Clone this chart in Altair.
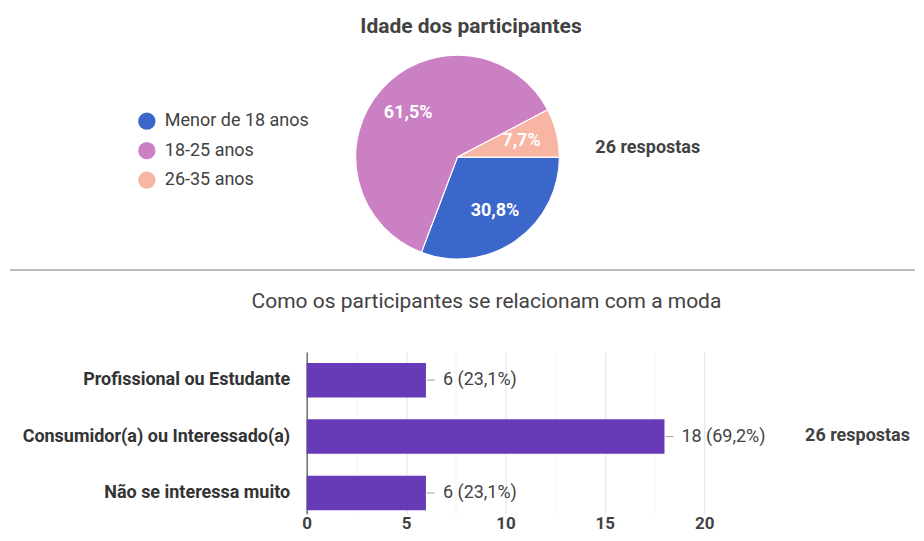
import math
import altair as alt
import pandas as pd

# ---------------- data ----------------
age_groups = ["Menor de 18 anos", "18-25 anos", "26-35 anos"]
age_counts = [8, 16, 2]
age_colors = ["#3B67CB", "#CB80C3", "#F8B5A4"]

rel_categories = ["Profissional ou Estudante", "Consumidor(a) ou Interessado(a)", "Não se interessa muito"]
rel_counts = [6, 18, 6]

total_respostas = 26
x_ticks = [0, 2.5, 5, 7.5, 10, 12.5, 15, 17.5, 20]

title_top = "Idade dos participantes"
title_bottom = "Como os participantes se relacionam com a moda"

TXT = "#424242"
FONT = "Roboto"


def pct(v):
    return f"{v / total_respostas * 100:.1f}%".replace(".", ",")


pie_df = pd.DataFrame({
    "grupo": age_groups,
    "n": age_counts,
    "ordem": list(range(len(age_groups))),
    "pct": [pct(v) for v in age_counts],
})
bar_df = pd.DataFrame({
    "cat": rel_categories,
    "n": rel_counts,
    "rotulo": [f"{v} ({pct(v)})" for v in rel_counts],
})
note_df = pd.DataFrame({"txt": [f"{total_respostas} respostas"]})

# ---------------- top: pie ----------------
# both panels share the plot origin (x = 299 px into the canvas)
theta_scale = alt.Scale(range=[math.pi / 2, math.pi / 2 + 2 * math.pi])
cx, cy = 151, 114

base = alt.Chart(pie_df).encode(
    theta=alt.Theta("n:Q", stack=True, scale=theta_scale),
    order=alt.Order("ordem:Q"),
)
arcs = base.mark_arc(outerRadius=102, stroke="white", strokeWidth=1.2).encode(
    color=alt.Color(
        "grupo:N",
        sort=age_groups,
        scale=alt.Scale(domain=age_groups, range=age_colors),
        legend=alt.Legend(
            title=None, orient="none", legendX=-169, legendY=69,
            symbolType="circle", symbolSize=300, symbolStrokeWidth=0,
            symbolOpacity=1, labelFontSize=18, labelColor=TXT, labelFont=FONT,
            rowPadding=11.5, labelOffset=9, padding=0,
        ),
    ),
    x=alt.value(cx), y=alt.value(cy),
)
pie_labels = base.mark_text(radius=66, fontSize=18, fontWeight="bold", color="white", font=FONT).encode(
    text="pct:N", x=alt.value(cx), y=alt.value(cy)
)
note_top = alt.Chart(note_df).mark_text(
    align="left", baseline="middle", fontSize=18, fontWeight="bold", color=TXT, font=FONT
).encode(text="txt:N", x=alt.value(289), y=alt.value(105))
separator = alt.Chart(note_df).mark_rule(color="#BDBDBD", strokeWidth=2).encode(
    x=alt.value(-297), x2=alt.value(609), y=alt.value(227)
)

top = alt.layer(arcs, pie_labels, note_top, separator).properties(
    width=609, height=230,
    title=alt.TitleParams(title_top, fontSize=21, fontWeight="bold", color=TXT, font=FONT,
                          anchor="middle", offset=6, dx=-140),
)

# ---------------- bottom: bars ----------------
y_enc = alt.Y(
    "cat:N", sort=rel_categories,
    scale=alt.Scale(paddingInner=0.389, paddingOuter=0.128, align=0.76),
    axis=alt.Axis(title=None, ticks=False, domain=True, domainColor="#333333", domainWidth=1,
                  labelFontSize=18, labelFontWeight="bold", labelColor="#333333", labelFont=FONT,
                  labelPadding=17, labelLimit=400, minExtent=299, maxExtent=299, grid=False),
)
x_enc = alt.X(
    "n:Q", scale=alt.Scale(domain=[0, 20], nice=False),
    axis=alt.Axis(values=x_ticks, title=None, domain=False, ticks=False, labelFlush=False,
                  labelExpr="datum.value % 5 === 0 ? datum.label : ''",
                  labelFontSize=17, labelFontWeight="bold", labelColor=TXT, labelFont=FONT,
                  labelPadding=2, grid=True,
                  gridColor={"condition": {"test": "datum.value % 5 === 0", "value": "#E3E3E3"},
                             "value": "#F3F3F3"}),
)

bars = alt.Chart(bar_df).mark_bar(color="#673AB7").encode(x=x_enc, y=y_enc)
leaders = alt.Chart(bar_df).mark_rule(color="#9E9E9E", xOffset=1, x2Offset=9).encode(
    x="n:Q", x2="n:Q", y=alt.Y("cat:N", sort=rel_categories)
)
bar_text = alt.Chart(bar_df).mark_text(
    align="left", baseline="middle", dx=17, fontSize=18, color=TXT, font=FONT
).encode(x="n:Q", y=alt.Y("cat:N", sort=rel_categories), text="rotulo:N")
note_bottom = alt.Chart(note_df).mark_text(
    align="left", baseline="middle", fontSize=18, fontWeight="bold", color=TXT, font=FONT
).encode(text="txt:N", x=alt.value(499), y=alt.value(84))

bottom = alt.layer(bars, leaders, bar_text, note_bottom).properties(
    width=398, height=162,
    title=alt.TitleParams(title_bottom, fontSize=21, fontWeight="normal", color=TXT, font=FONT,
                          anchor="middle", offset=40, dx=-19),
)

chart = alt.vconcat(top, bottom, spacing=18).properties(
    padding={"left": 0, "top": 8, "right": 0, "bottom": 0},
    background="white",
).configure_view(stroke="transparent", strokeWidth=0)

chart.save("out.html", embed_options={"renderer": "svg", "actions": False})
